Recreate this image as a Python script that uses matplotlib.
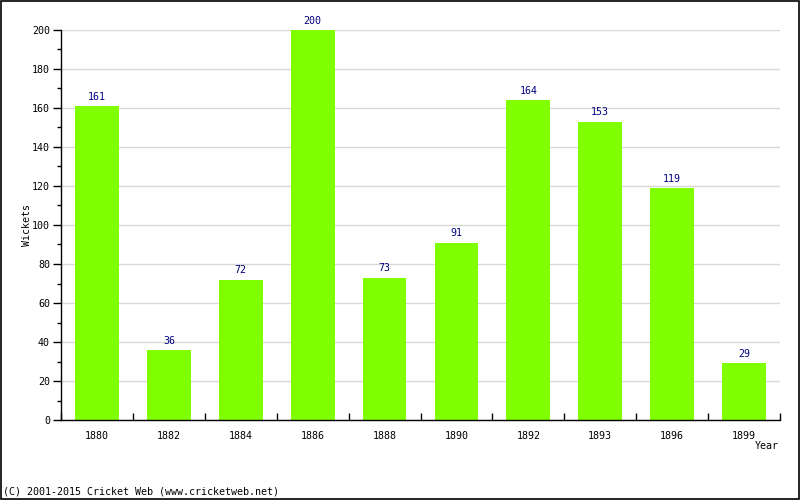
import matplotlib
matplotlib.use("Agg")
import matplotlib.pyplot as plt
from matplotlib.patches import Rectangle
from matplotlib.ticker import MultipleLocator, FixedLocator

years = ["1880", "1882", "1884", "1886", "1888", "1890", "1892", "1893", "1896", "1899"]
wickets = [161, 36, 72, 200, 73, 91, 164, 153, 119, 29]

plt.rcParams["font.family"] = "DejaVu Sans Mono"
plt.rcParams["font.size"] = 7.2

fig = plt.figure(figsize=(8, 5), dpi=100)
ax = fig.add_axes([61 / 800, 80 / 500, 719 / 800, 390 / 500])

x = list(range(len(years)))
ax.bar(x, wickets, width=0.61, color="#80ff00", zorder=2)
for xi, v in zip(x, wickets):
    ax.annotate(str(v), (xi, v), xytext=(0, 3), textcoords="offset points",
                ha="center", va="bottom", color="#000080")

ax.set_xlim(-0.5, len(years) - 0.5)
ax.set_ylim(0, 200)
ax.set_xticks(x)
ax.set_xticklabels(years)
ax.tick_params(axis="x", which="major", length=0, pad=8)
ax.xaxis.set_minor_locator(FixedLocator([i + 0.5 for i in range(-1, len(years))]))
ax.tick_params(axis="x", which="minor", direction="in", length=5, width=1)

ax.yaxis.set_major_locator(MultipleLocator(20))
ax.yaxis.set_minor_locator(MultipleLocator(10))
ax.tick_params(axis="y", which="major", direction="out", length=6, width=1, pad=2)
ax.tick_params(axis="y", which="minor", direction="out", length=3, width=1)
ax.grid(axis="y", which="major", color="#d8d8d8", linewidth=1, zorder=0)

for side in ["top", "right"]:
    ax.spines[side].set_visible(False)
for side in ["left", "bottom"]:
    ax.spines[side].set_linewidth(1)

fig.text(27 / 800, 1 - 225 / 500, "Wickets", rotation=90, ha="center", va="center")
fig.text(779 / 800, 1 - 446 / 500, "Year", ha="right", va="center")
fig.text(3 / 800, 1 - 492 / 500, "(C) 2001-2015 Cricket Web (www.cricketweb.net)",
         ha="left", va="center")

fig.patches.append(Rectangle((0.001, 0.002), 0.998, 0.996, transform=fig.transFigure,
                             fill=False, edgecolor="black", linewidth=1.2))

fig.savefig("out.png", dpi=100)
